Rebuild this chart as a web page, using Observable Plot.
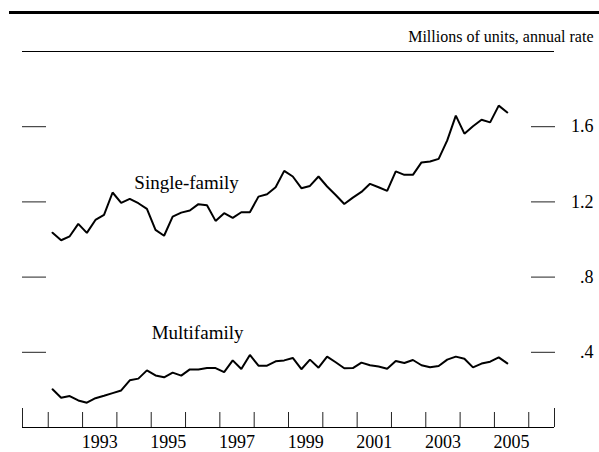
<!DOCTYPE html>
<html>
<head>
<meta charset="utf-8">
<script src="https://cdn.jsdelivr.net/npm/d3@7"></script>
<script src="https://cdn.jsdelivr.net/npm/@observablehq/plot@0.6"></script>
<style>
  html, body { margin: 0; padding: 0; background: #fff; }
  #wrap { position: relative; width: 599px; height: 452px; overflow: hidden; }
  #thick { position: absolute; left: 9px; width: 590px; top: 11px; height: 3px; background: #000; }
</style>
</head>
<body>
<div id="wrap"><div id="thick"></div></div>
<script>
// Quarterly data, 1992:Q1 - 2005:Q2 (millions of units, annual rate)
const startYear = 1992;
const singleFamily = [
  1.036, 0.996, 1.017, 1.083,
  1.035, 1.104, 1.131, 1.250,
  1.195, 1.216, 1.193, 1.163,
  1.051, 1.020, 1.122, 1.143,
  1.154, 1.188, 1.182, 1.099,
  1.140, 1.115, 1.145, 1.145,
  1.228, 1.241, 1.278, 1.365,
  1.335, 1.273, 1.285, 1.335,
  1.282, 1.237, 1.189, 1.223,
  1.253, 1.296, 1.278, 1.259,
  1.362, 1.344, 1.344, 1.410,
  1.415, 1.429, 1.527, 1.659,
  1.563, 1.602, 1.637, 1.623,
  1.712, 1.676
];
const multiFamily = [
  0.203, 0.158, 0.167, 0.144,
  0.132, 0.156, 0.169, 0.183,
  0.197, 0.251, 0.260, 0.304,
  0.277, 0.267, 0.292, 0.276,
  0.309, 0.309, 0.316, 0.316,
  0.295, 0.357, 0.311, 0.386,
  0.329, 0.329, 0.352, 0.357,
  0.370, 0.310, 0.361, 0.318,
  0.377, 0.347, 0.315, 0.316,
  0.345, 0.331, 0.324, 0.313,
  0.354, 0.343, 0.359, 0.331,
  0.320, 0.327, 0.361, 0.377,
  0.366, 0.320, 0.340, 0.350,
  0.373, 0.341
];
const yearTicks = [1992, 1993, 1994, 1995, 1996, 1997, 1998, 1999, 2000, 2001, 2002, 2003, 2004, 2005, 2006];
const xTickLabels = ["1993", "1995", "1997", "1999", "2001", "2003", "2005"];
const yTicks = [0.4, 0.8, 1.2, 1.6];
const yTickLabels = [".4", ".8", "1.2", "1.6"];
const xDomain = [1991.25, 2006.75];
const yDomain = [0, 2];
const subtitle = "Millions of units, annual rate";
const seriesLabels = [
  {x: 1996.03, y: 1.27, text: "Single-family"},
  {x: 1996.35, y: 0.47, text: "Multifamily"}
];

const toRows = (vals, name) => vals.map((v, i) => ({t: startYear + (i + 0.5) / 4, v, name}));
const rows = [...toRows(singleFamily, "Single-family"), ...toRows(multiFamily, "Multifamily")];

const font = "'Liberation Serif', 'Times New Roman', serif";
const ink = "#000";
const tickInk = "#222";

const chart = Plot.plot({
  width: 599,
  height: 452,
  marginLeft: 22,
  marginRight: 45,
  marginTop: 51,
  marginBottom: 25,
  style: {fontFamily: font, fontSize: "18px", color: ink, background: "transparent", overflow: "visible"},
  x: {domain: xDomain, axis: null},
  y: {domain: yDomain, axis: null},
  marks: [
    Plot.ruleY([yDomain[1]], {stroke: ink, strokeWidth: 1}),
    Plot.ruleY([yDomain[0]], {stroke: ink, strokeWidth: 1}),
    // left inward ticks (no labels)
    Plot.axisY(yTicks, {anchor: "left", tickSize: 24, insetLeft: 24, tickFormat: () => "", label: null, stroke: tickInk}),
    // right inward ticks with labels
    Plot.axisY(yTicks, {anchor: "right", tickSize: 24, insetRight: 24, tickPadding: 39, textAnchor: "end",
      tickFormat: d => yTickLabels[yTicks.indexOf(d)], label: null, stroke: tickInk, fill: ink, fontSize: 18}),
    // year boundary ticks, pointing up from the baseline
    Plot.axisX(yearTicks, {anchor: "bottom", tickSize: 15, insetBottom: 15, tickFormat: () => "", label: null, stroke: tickInk}),
    // edge ticks
    Plot.axisX(xDomain, {anchor: "bottom", tickSize: 19, insetBottom: 19, tickFormat: () => "", label: null, stroke: tickInk}),
    // year labels centred in the year
    Plot.axisX(xTickLabels.map(s => +s + 0.5), {anchor: "bottom", tickSize: 0, tickPadding: 8,
      tickFormat: d => String(Math.floor(d)), label: null, fill: ink, fontSize: 18}),
    Plot.lineY(rows, {x: "t", y: "v", z: "name", stroke: ink, strokeWidth: 2, strokeLinejoin: "miter"}),
    Plot.text(seriesLabels, {x: "x", y: "y", text: "text", lineAnchor: "bottom", textAnchor: "middle", fontSize: 19, fill: ink}),
    Plot.text([subtitle], {frameAnchor: "top-right", dx: 39, dy: -10, lineAnchor: "bottom", textAnchor: "end", fontSize: 16, fill: ink})
  ]
});
document.getElementById("wrap").appendChild(chart);
</script>
</body>
</html>
